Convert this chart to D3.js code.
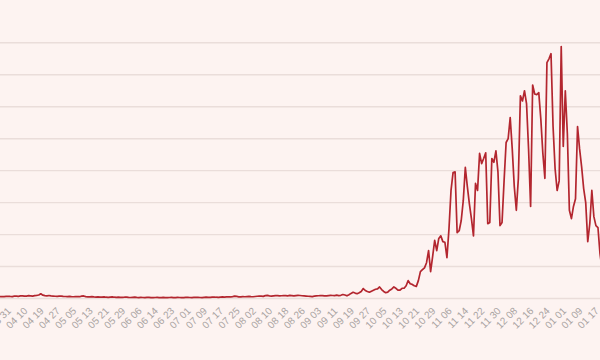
<!DOCTYPE html>
<html>
<head>
<meta charset="utf-8">
<script src="https://cdn.jsdelivr.net/npm/d3@7"></script>
<style>
  body { margin: 0; background: #fdf3f1; }
  svg { display: block; }
</style>
</head>
<body>
<svg id="chart"></svg>
<script>
// daily values (thousands), one per day, first point a few days before 03 31
var values = [
  0.28,0.31,0.30,0.33,0.35,0.32,0.30,0.36,0.38,0.34,
  0.40,0.42,0.36,0.38,0.44,0.41,0.37,0.45,0.48,0.55,
  0.73,0.52,0.46,0.42,0.47,0.40,0.38,0.35,0.33,0.36,
  0.38,0.34,0.31,0.30,0.33,0.29,0.27,0.31,0.30,0.28,
  0.36,0.40,0.30,0.26,0.25,0.28,0.24,0.22,0.25,0.23,
  0.21,0.24,0.20,0.19,0.22,0.25,0.20,0.18,0.21,0.19,
  0.17,0.20,0.22,0.18,0.16,0.19,0.21,0.17,0.15,0.18,
  0.16,0.14,0.17,0.19,0.15,0.13,0.16,0.18,0.15,0.14,
  0.17,0.15,0.13,0.16,0.18,0.14,0.15,0.17,0.16,0.14,
  0.15,0.17,0.18,0.16,0.14,0.17,0.19,0.18,0.16,0.15,
  0.18,0.20,0.19,0.17,0.21,0.23,0.20,0.19,0.22,0.24,
  0.22,0.25,0.27,0.24,0.30,0.38,0.32,0.26,0.25,0.28,
  0.27,0.30,0.32,0.29,0.27,0.31,0.35,0.38,0.36,0.33,
  0.45,0.48,0.40,0.38,0.42,0.46,0.44,0.40,0.43,0.47,
  0.45,0.42,0.48,0.44,0.40,0.46,0.50,0.47,0.43,0.41,
  0.38,0.35,0.33,0.30,0.36,0.40,0.43,0.46,0.44,0.40,
  0.42,0.46,0.50,0.47,0.44,0.52,
  0.45,0.50,0.62,0.55,0.42,0.60,0.80,0.98,0.85,0.75,
  0.90,1.10,1.56,1.25,1.10,0.98,1.15,1.30,1.45,1.50,
  1.8,1.4,1.1,0.9,1.0,1.3,1.5,1.8,1.6,1.3,
  1.3,1.6,1.6,2.0,2.8,2.3,2.2,2.0,1.9,2.8,
  4.2,4.5,4.8,5.6,7.5,4.2,6.6,9.1,7.5,9.4,
  9.8,8.9,8.8,6.4,10.9,16.9,19.7,19.8,10.3,10.6,
  12.2,15.3,20.5,17.5,14.8,12.5,9.8,18.0,16.9,22.7,
  21.1,21.9,22.8,11.7,11.9,21.9,21.3,23.1,19.8,11.4,
  11.9,18.4,24.4,25.0,28.3,23.4,17.5,13.8,18.8,31.7,
  30.9,32.5,30.5,23.4,14.4,33.4,32.0,31.9,32.2,28.1,
  22.7,18.8,36.9,37.5,38.3,26.9,20.3,16.9,18.4,39.4,
  23.8,32.5,25.8,13.8,12.5,14.4,15.6,26.9,23.4,20.6,
  17.2,15.0,8.9,11.7,16.9,12.8,11.4,11.1,7.0,4.7
];

// x-axis labels, every 8th day starting at day 6
var tickLabels = [
  "03 31","04 10","04 19","04 27","05 05","05 13","05 21","05 29",
  "06 06","06 14","06 23","07 01","07 09","07 17","07 25","08 02",
  "08 10","08 18","08 26","09 03","09 11","09 19","09 27","10 05",
  "10 13","10 21","10 29","11 06","11 14","11 22","11 30","12 08",
  "12 16","12 24","01 01","01 09","01 17"
];
var firstLabelIndex = 6;
var labelStep = 8;

var yTicks = [0, 5, 10, 15, 20, 25, 30, 35, 40];

var width = 600, height = 360;

var svg = d3.select("#chart").attr("width", width).attr("height", height);

svg.append("rect")
  .attr("width", width)
  .attr("height", height)
  .attr("fill", "#fdf3f1");

var x = d3.scaleLinear().domain([0, 294]).range([0, 600]);
var y = d3.scaleLinear().domain([0, 40]).range([298.5, 42.8]);

// grid lines
svg.append("g")
  .selectAll("line")
  .data(yTicks)
  .enter()
  .append("line")
  .attr("x1", 0)
  .attr("x2", width)
  .attr("y1", d => y(d))
  .attr("y2", d => y(d))
  .attr("stroke", "#eaddda")
  .attr("stroke-width", 1.4);

// x axis
var tickIdx = tickLabels.map((d, i) => firstLabelIndex + i * labelStep);

var xAxis = svg.append("g")
  .attr("transform", "translate(0," + y(0) + ")")
  .call(d3.axisBottom(x)
    .tickValues(tickIdx)
    .tickFormat((d, i) => tickLabels[i])
    .tickSize(0));

xAxis.select(".domain").remove();

xAxis.selectAll("text")
  .attr("x", 0)
  .attr("y", 0)
  .attr("dy", 0)
  .attr("text-anchor", "end")
  .attr("transform", "translate(-1,13) rotate(-45)")
  .attr("fill", "#a9a3a2")
  .style("font-family", "'Liberation Sans', Arial, sans-serif")
  .style("font-size", "10px");

// the line
var line = d3.line()
  .x((d, i) => x(i))
  .y(d => y(d));

svg.append("path")
  .datum(values)
  .attr("fill", "none")
  .attr("stroke", "#b3262f")
  .attr("stroke-width", 1.7)
  .attr("stroke-linejoin", "round")
  .attr("d", line);
</script>
</body>
</html>
